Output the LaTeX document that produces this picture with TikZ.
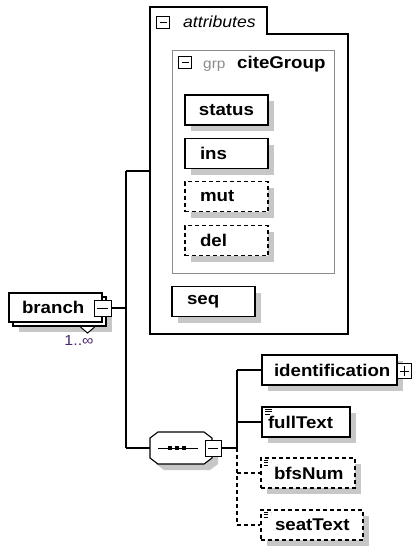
\documentclass[tikz,border=0pt]{standalone}
\usepackage{fontspec}
\setmainfont{Liberation Sans}
\newfontfamily\labf[FakeStretch=1.1]{Liberation Sans}
\usetikzlibrary{shadows}
\begin{document}
\begin{tikzpicture}[x=1pt,y=-1pt,
  ln/.style={line width=1.1pt, draw=black},
  dln/.style={ln, dash pattern=on 4pt off 3pt},
  lbltext/.style={font=\labf\bfseries\fontsize{17}{20}\selectfont, text=black},
  elem/.style={draw=black, fill=white, line width=1.1pt, inner sep=0pt, lbltext, minimum height=30pt, align=left,
    drop shadow={shadow xshift=6pt,shadow yshift=-6pt,fill=black!22,opacity=1}},
  opt/.style={elem, dash pattern=on 4pt off 3pt},
  pad/.style 2 args={inner xsep=#1, text width=#2-2*#1},
  pmbox/.style={draw=black, fill=white, line width=1pt, inner sep=0pt},
  minusbox/.style={pmbox, path picture={\draw[line width=1pt] ([xshift=3pt]path picture bounding box.west) -- ([xshift=-3pt]path picture bounding box.east);}},
  plusbox/.style={pmbox, path picture={\draw[line width=1pt] ([xshift=2.5pt]path picture bounding box.west) -- ([xshift=-2.5pt]path picture bounding box.east) ([yshift=-2.5pt]path picture bounding box.north) -- ([yshift=2.5pt]path picture bounding box.south);}},
  simpleicon/.style={path picture={\draw[line width=0.8pt] ([shift={(3,2.5)}]path picture bounding box.north west) -- ++(7,0) ([shift={(3,4.8)}]path picture bounding box.north west) -- ++(7,0) ([shift={(3,7.1)}]path picture bounding box.north west) -- ++(5,0);}}
]
\useasboundingbox (0,0) rectangle (415,546);

% ---------- attributes group ----------
\draw[line width=1.3pt] (150,7) -- (267,7) -- (267,34) -- (348,34) -- (348,334) -- (150,334) -- cycle;
\node[minusbox, minimum width=13pt, minimum height=12pt] (amin) at (163,22) {};
\node[anchor=base west, inner sep=0pt, font=\labf\itshape\fontsize{16}{18}\selectfont] (atxt) at (183,27.5) {attributes};

\draw[line width=1pt, draw=black!45] (172,50) rectangle (334,273);
\node[minusbox, minimum width=13pt, minimum height=12pt] (gmin) at (185,62) {};
\node[anchor=base west, inner sep=0pt, text=black!45, font=\labf\fontsize{14}{16}\selectfont] (grp) at (203,68) {grp};
\node[anchor=base west, inner sep=0pt, lbltext] (cite) at (237,68) {citeGroup};

\node[elem, pad={4pt}{83pt}, align=center] (status) at (226.5,110) {status};
\node[elem, pad={15pt}{83pt}] (ins) at (226.5,153.5) {ins};
\node[opt, pad={15pt}{83pt}] (mut) at (226.5,196.5) {mut};
\node[opt, pad={15pt}{83pt}] (del) at (226.5,240.5) {del};
\node[elem, pad={15pt}{83pt}] (seq) at (213.5,301.5) {seq};

% ---------- branch ----------
\node[elem, minimum width=93pt, minimum height=29pt] (bback) at (59.5,311.5) {};
\node[draw=black, fill=white, line width=1.1pt, inner sep=0pt, lbltext, minimum height=29pt, align=left, pad={13pt}{93pt}] (branch) at (55.5,307.5) {branch};
\draw[line width=1pt, fill=white] ([xshift=-26pt,yshift=-0.5pt]bback.south east) -- ++(7,6) -- ++(7,-6);
\node[minusbox, minimum width=17pt, minimum height=16pt] (bmin) at (102.5,308) {};
\node[inner sep=0pt, text={rgb,255:red,70;green,40;blue,110}, font=\labf\fontsize{14.5}{16}\selectfont] (mult) at (79,341) {1..∞};

% ---------- main connectors ----------
\coordinate (jc) at (126,308);
\coordinate (ja) at (126,171);
\coordinate (jb) at (126,448);
\coordinate (attrL) at (150,171);
\draw[ln] (bmin.east) -- (jc);
\draw[ln] (ja) -- (jb);
\draw[ln] (ja) -- (attrL);

% ---------- sequence compositor ----------
\fill[black!22] (164,438) -- (210,438) -- (218,444) -- (218,464) -- (210,470) -- (164,470) -- (156,464) -- (156,444) -- cycle;
\node[inner sep=0pt, minimum width=62pt, minimum height=32pt] (seqc) at (181,448) {};
\draw[line width=1.1pt, fill=white] (158,432) -- (204,432) -- (212,438) -- (212,458) -- (204,464) -- (158,464) -- (150,458) -- (150,438) -- cycle;
\draw[line width=1pt] (158,448) -- (198,448);
\foreach \dx in {170,177,184} \fill (\dx-2,446) rectangle (\dx+2,450);
\node[minusbox, minimum width=16pt, minimum height=16pt] (cmin) at (213,448) {};
\draw[ln] (jb) -- (seqc.west);

\coordinate (sj) at (237,448);
\coordinate (v1) at (237,370);
\coordinate (v2) at (237,422);
\coordinate (v3) at (237,473);
\coordinate (v4) at (237,525);
\draw[ln] (cmin.east) -- (sj);
\draw[ln] (v1) -- (sj);
\draw[dln] (sj) -- (v4);

% ---------- children ----------
\node[elem, pad={12pt}{135pt}] (ident) at (329.5,370) {identification};
\node[plusbox, minimum width=14pt, minimum height=15pt] (iplus) at (404,371) {};
\node[elem, simpleicon, pad={6pt}{88pt}] (ft) at (306,422) {fullText};
\node[opt, simpleicon, pad={13pt}{94pt}] (bfs) at (308,473) {bfsNum};
\node[opt, simpleicon, pad={14pt}{102pt}] (seat) at (312,525) {seatText};

\draw[ln] (v1) -- (ident.west);
\draw[ln] (v2) -- (ft.west);
\draw[dln] (v3) -- (bfs.west);
\draw[dln] (v4) -- (seat.west);
\end{tikzpicture}
\end{document}
